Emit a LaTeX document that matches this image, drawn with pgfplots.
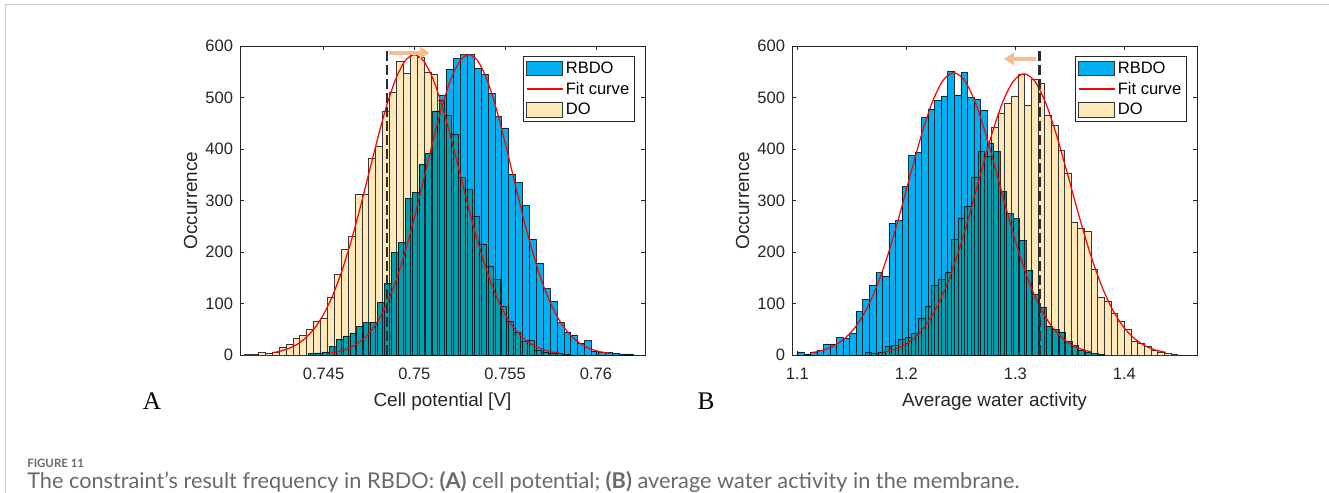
\documentclass[border=0pt]{standalone}
\usepackage{pgfplots}
\pgfplotsset{compat=1.18}
\usepackage{pgfplotstable}
\usepackage{fontspec}
\setmainfont{Liberation Sans}
\newfontfamily\panelfont{Liberation Serif}
\newfontfamily\capfont{Lato}
\usetikzlibrary{arrows.meta}

\definecolor{rbdoblue}{RGB}{0,176,240}
\definecolor{dobeige}{RGB}{253,232,186}
\definecolor{baredge}{RGB}{55,55,55}
\definecolor{axgray}{RGB}{38,38,38}
\definecolor{arrowpeach}{RGB}{247,188,146}
\definecolor{capgray}{RGB}{105,105,105}
\definecolor{framegray}{RGB}{205,205,205}
\definecolor{fitred}{RGB}{255,0,0}

% histogram bins: left edge, count (last row closes the last bin)
\pgfplotstableread{
x y
0.74065 2
0.74103 1
0.74141 5
0.74179 3
0.74217 6
0.74255 15
0.74293 21
0.74331 32
0.74369 38
0.74407 49
0.74445 65
0.74483 71
0.74521 113
0.74559 157
0.74597 205
0.74635 230
0.74673 313
0.74711 313
0.74749 381
0.74787 405
0.74825 474
0.74863 511
0.74901 570
0.74939 547
0.74977 583
0.75015 579
0.75053 549
0.75091 546
0.75129 495
0.75167 465
0.75205 428
0.75243 346
0.75281 322
0.75319 270
0.75357 215
0.75395 172
0.75433 147
0.75471 94
0.75509 65
0.75547 45
0.75585 26
0.75623 29
0.75661 10
0.75699 6
0.75737 4
0.75775 3
0.75813 2
0.75851 0
}\doA

\pgfplotstableread{
x y
0.74417 3
0.74455 4
0.74493 6
0.74531 17
0.74569 31
0.74607 37
0.74645 43
0.74683 55
0.74721 63
0.74759 64
0.74797 102
0.74835 139
0.74873 200
0.74911 218
0.74949 304
0.74987 316
0.75025 370
0.75063 392
0.75101 474
0.75139 505
0.75177 555
0.75215 576
0.75253 583
0.75291 583
0.75329 557
0.75367 545
0.75405 508
0.75443 463
0.75481 441
0.75519 351
0.75557 335
0.75595 290
0.75633 225
0.75671 179
0.75709 129
0.75747 104
0.75785 63
0.75823 45
0.75861 39
0.75899 23
0.75937 28
0.75975 8
0.76013 6
0.76051 5
0.76089 3
0.76127 2
0.76165 2
0.76203 0
}\rbdoA

\pgfplotstableread{
x y
1.100 6
1.106 2
1.112 5
1.118 10
1.124 21
1.130 21
1.136 34
1.142 33
1.148 43
1.154 84
1.160 108
1.166 136
1.172 160
1.178 153
1.184 256
1.190 261
1.196 327
1.202 387
1.208 393
1.214 461
1.220 478
1.226 495
1.232 503
1.238 551
1.244 505
1.250 549
1.256 500
1.262 497
1.268 476
1.274 411
1.280 395
1.286 317
1.292 275
1.298 265
1.304 223
1.310 165
1.316 117
1.322 93
1.328 56
1.334 50
1.340 45
1.346 27
1.352 18
1.358 10
1.364 5
1.370 3
1.376 1
1.382 0
}\rbdoB

\pgfplotstableread{
x y
1.1621 6
1.1682 3
1.1743 6
1.1804 17
1.1865 18
1.1926 31
1.1987 34
1.2048 42
1.2109 71
1.2170 94
1.2231 136
1.2292 147
1.2353 160
1.2414 225
1.2475 265
1.2536 289
1.2597 345
1.2658 395
1.2719 386
1.2780 443
1.2841 470
1.2902 488
1.2963 503
1.3024 546
1.3085 485
1.3146 535
1.3207 528
1.3268 465
1.3329 447
1.3390 398
1.3451 352
1.3512 257
1.3573 246
1.3634 240
1.3695 167
1.3756 113
1.3817 104
1.3878 81
1.3939 65
1.4000 49
1.4061 26
1.4122 23
1.4183 16
1.4244 10
1.4305 6
1.4366 3
1.4427 1
1.4488 0
}\doB

% fitted curves
\pgfplotstableread{
x y
0.7422 4.5
0.7425 6.5
0.7430 11.6
0.7435 19.8
0.7440 32.7
0.7445 51.8
0.7450 78.9
0.7455 115.4
0.7460 162.1
0.7465 218.8
0.7470 283.8
0.7475 353.6
0.7480 423.3
0.7485 487.0
0.7490 538.2
0.7495 571.5
0.7500 583.0
0.7505 571.5
0.7510 538.2
0.7515 487.0
0.7520 423.3
0.7525 353.6
0.7530 283.8
0.7535 218.8
0.7540 162.1
0.7545 115.4
0.7550 78.9
0.7555 51.8
0.7560 32.7
0.7565 19.8
0.7570 11.6
0.7575 6.5
0.7580 3.5
}\fitdoA

\pgfplotstableread{
x y
0.7452 3.0
0.7455 4.4
0.7460 8.3
0.7465 14.9
0.7470 25.6
0.7475 42.2
0.7480 66.5
0.7485 100.5
0.7490 145.4
0.7495 201.3
0.7500 266.9
0.7505 338.9
0.7510 412.0
0.7515 479.6
0.7520 534.6
0.7525 570.5
0.7530 583.0
0.7535 570.5
0.7540 534.6
0.7545 479.6
0.7550 412.0
0.7555 338.9
0.7560 266.9
0.7565 201.3
0.7570 145.4
0.7575 100.5
0.7580 66.5
0.7585 42.2
0.7590 25.6
0.7595 14.9
0.7600 8.3
0.7605 4.4
0.7608 3.0
}\fitrbdoA

\pgfplotstableread{
x y
1.1135 4.6
1.1235 9.3
1.1335 17.8
1.1435 32.2
1.1535 55.2
1.1635 89.3
1.1735 136.7
1.1835 197.5
1.1935 269.8
1.2035 348.2
1.2135 424.6
1.2235 489.3
1.2335 532.7
1.2435 548.0
1.2535 532.7
1.2635 489.3
1.2735 424.6
1.2835 348.2
1.2935 269.8
1.3035 197.5
1.3135 136.7
1.3235 89.3
1.3335 55.2
1.3435 32.2
1.3535 17.8
1.3635 9.3
1.3700 5.9
}\fitrbdoB

\pgfplotstableread{
x y
1.178 5.1
1.188 10.1
1.198 19.2
1.208 34.3
1.218 58.0
1.228 92.9
1.238 140.6
1.248 201.5
1.258 273.3
1.268 350.6
1.278 425.6
1.288 488.8
1.298 531.1
1.308 546.0
1.318 531.1
1.328 488.8
1.338 425.6
1.348 350.6
1.358 273.3
1.368 201.5
1.378 140.6
1.388 92.9
1.398 58.0
1.408 34.3
1.418 19.2
1.428 10.1
1.438 5.1
}\fitdoB

\pgfplotsset{
  hist panel/.style={
    scale only axis, width=303.75pt, height=231.75pt,
    anchor=south west,
    ymin=0, ymax=600, ytick={0,100,...,600},
    axis line style={axgray, line width=0.55pt},
    tick style={axgray, line width=0.55pt},
    major tick length=3pt,
    tick align=inside,
    scaled x ticks=false,
    /pgf/number format/assume math mode=true,
    tick label style={font=\fontsize{12.4}{14}\selectfont, text=axgray},
    xticklabel style={anchor=center, yshift=-14.25pt},
    yticklabel style={anchor=east, inner sep=0pt, xshift=-5pt},
    label style={font=\fontsize{14.2}{16}\selectfont, text=axgray},
    xlabel style={at={(axis description cs:0.5,-0.152)}, anchor=center},
    ylabel style={at={(axis description cs:-0.1217,0.5)}, anchor=center},
    ylabel={Occurrence},
    legend cell align=left,
    legend style={at={(0.975,0.968)}, anchor=north east, draw=axgray,
      line width=0.5pt, font=\fontsize{12.4}{13}\selectfont,
      inner xsep=2pt, inner ysep=2pt, row sep=1.2pt},
  },
  histbars/.style={ybar interval, draw=baredge, line width=0.45pt, forget plot},
  fitline/.style={fitred, line width=0.9pt, smooth, no markers, forget plot},
  cutline/.style={color={rgb,255:red,45;green,45;blue,45}, line width=1.8pt,
    dash pattern=on 7.5pt off 3pt, forget plot},
  patch legend/.style={legend image code/.code={%
    \draw[##1, draw=baredge, line width=0.45pt] (0pt,-5.4pt) rectangle (27pt,5.4pt);}},
  curve legend/.style={legend image code/.code={%
    \draw[##1] (0pt,0pt) -- (27pt,0pt);}},
}

\newcommand{\histlegend}{%
  \addlegendimage{patch legend, fill=rbdoblue}
  \addlegendentry{RBDO}
  \addlegendimage{curve legend, draw=fitred, color=fitred, line width=0.9pt}
  \addlegendentry{Fit curve}
  \addlegendimage{patch legend, fill=dobeige}
  \addlegendentry{DO}
}

\begin{document}
\begin{tikzpicture}
\path[use as bounding box] (0,0) rectangle (996.75pt,-369.75pt);
\draw[framegray, line width=0.75pt] (3.75pt,-369.75pt) -- (3.75pt,-3pt) -- (996.75pt,-3pt);

% panel A
\begin{axis}[hist panel, at={(180pt,-266.25pt)},
  xmin=0.7404, xmax=0.7627,
  xtick={0.745,0.75,0.755,0.76},
  xticklabels={0.745,0.75,0.755,0.76},
  xlabel={Cell potential [V]}]
\histlegend
\addplot[histbars, fill=dobeige] table {\doA};
\addplot[histbars, fill=rbdoblue, blend mode=multiply] table {\rbdoA};
\addplot[fitline] table {\fitdoA};
\addplot[fitline] table {\fitrbdoA};
\addplot[cutline] coordinates {(0.7485,0) (0.7485,595)};
\draw[arrowpeach, line width=3.2pt, -{Triangle[length=7.5pt,width=9pt]}]
  (axis cs:0.74862,587) -- (axis cs:0.75084,587);
\end{axis}

% panel B
\begin{axis}[hist panel, at={(594pt,-266.25pt)},
  xmin=1.0951, xmax=1.4667,
  xtick={1.1,1.2,1.3,1.4},
  xticklabels={1.1,1.2,1.3,1.4},
  xlabel={Average water activity}]
\histlegend
\addplot[histbars, fill=dobeige] table {\doB};
\addplot[histbars, fill=rbdoblue, blend mode=multiply] table {\rbdoB};
\addplot[fitline] table {\fitrbdoB};
\addplot[fitline] table {\fitdoB};
\addplot[cutline] coordinates {(1.3223,0) (1.3223,600)};
\draw[arrowpeach, line width=3.2pt, -{Triangle[length=7.5pt,width=9pt]}]
  (axis cs:1.3190,575) -- (axis cs:1.2895,575);
\end{axis}

\node[font=\panelfont\fontsize{19}{19}\selectfont] at (114pt,-300.75pt) {A};
\node[font=\panelfont\fontsize{19}{19}\selectfont] at (529.5pt,-300.75pt) {B};
\node[anchor=base west, inner sep=0pt, text=capgray,
  font=\capfont\bfseries\fontsize{8.6}{10}\selectfont] at (20.25pt,-350.25pt) {FIGURE 11};
\node[anchor=base west, inner sep=0pt, text=capgray,
  font=\capfont\fontsize{16.3}{18}\selectfont] at (20.25pt,-366.5pt)
  {The constraint’s result frequency in RBDO: \textbf{(A)} cell potential; \textbf{(B)} average water activity in the membrane.};
\end{tikzpicture}
\end{document}
